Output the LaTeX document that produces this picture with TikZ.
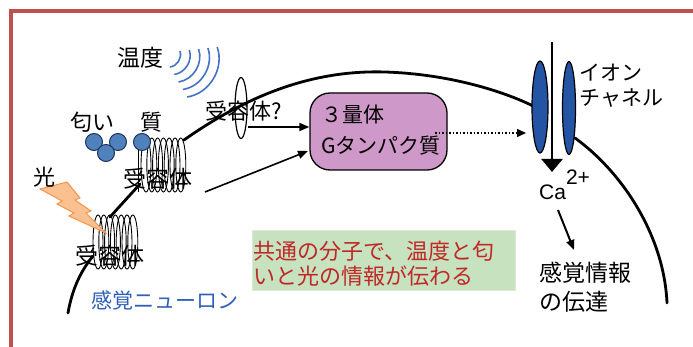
\documentclass[tikz,border=0pt]{standalone}
\usepackage{fontspec}
\setmainfont{Noto Sans CJK JP}
\newfontfamily\latinsans{Liberation Sans}
\usetikzlibrary{arrows.meta,shapes.geometric}

\definecolor{framered}{RGB}{192,80,77}
\definecolor{wave}{RGB}{68,114,196}
\definecolor{ligand}{RGB}{79,129,189}
\definecolor{ligandline}{RGB}{30,50,90}
\definecolor{gprot}{RGB}{206,152,200}
\definecolor{channel}{RGB}{36,84,164}
\definecolor{boltfill}{RGB}{250,192,144}
\definecolor{boltline}{RGB}{240,150,80}
\definecolor{notegreen}{RGB}{198,226,190}
\definecolor{noteline}{RGB}{225,230,215}
\definecolor{notered}{RGB}{192,40,40}
\definecolor{neuronblue}{RGB}{46,95,185}

\begin{document}
\begin{tikzpicture}[x=1pt,y=-1pt,
  jp/.style={font=\fontsize{21}{25}\selectfont, inner sep=0pt},
  jpbig/.style={font=\fontsize{23}{27}\selectfont, inner sep=0pt},
  membrane/.style={line width=2.8pt, line cap=round},
  coil/.style={line width=0.9pt},
  wavearc/.style={wave, line width=1.6pt},
  lig/.style={circle, minimum size=17pt, inner sep=0pt, fill=ligand, draw=ligandline, line width=1pt},
  chan/.style={ellipse, inner sep=0pt, fill=channel, draw=black, line width=1.2pt},
  arr/.style={line width=1.6pt, -{Triangle[length=10pt,width=8pt]}},
  dotarr/.style={line width=1.5pt, dotted, -{Triangle[length=9pt,width=8pt]}},
]
\useasboundingbox (0,0) rectangle (693,347);

% page frame
\draw[framered, line width=3.5pt] (10.8,347) -- (10.8,10.8) -- (693,10.8);

% cell membrane of the sensory neuron
\draw[membrane] (68,313) .. controls (72,290) and (80,272) .. (93,256);
\draw[membrane] (110,217) -- (140,184);
\draw[membrane] (184,140) .. controls (255,90) and (320,70) .. (385,72)
                .. controls (450,74) and (505,92) .. (533,106);
\draw[membrane] (575,138) .. controls (622,172) and (664,235) .. (667,303);

% seven-pass receptors
\foreach \i in {0,...,6}
  \draw[coil] (146+5.8*\i,165) ellipse [x radius=5pt, y radius=27pt];
\foreach \i in {0,...,6}
  \draw[coil] (98+5.8*\i,242) ellipse [x radius=5pt, y radius=27pt];
\draw[coil] (138.5,150) -- (138.5,192);

% receptor of unknown type
\node[ellipse, draw, line width=1.2pt, minimum width=12pt, minimum height=61pt, inner sep=0pt] (rq) at (241,108) {};

% temperature waves
\foreach \i in {0,...,4}
  \draw[wavearc] (170+4.3*\i,67+7.5*\i) to[bend right=50] (180+9.3*\i,51-1*\i);

% odorant molecules
\node[lig] (o1) at (94,142) {};
\node[lig] (o2) at (118,142) {};
\node[lig] (o3) at (106,153) {};
\node[lig] (o4) at (142,142) {};

% light
\draw[boltline, fill=boltfill, line width=1pt, line join=miter]
  (40,189) -- (67,182) -- (80,198) -- (75,200) -- (91,211) -- (86,213) -- (106,233)
  -- (69,216) -- (74,213) -- (57,204) -- (62,201) -- cycle;

% labels
\node[jpbig] (temp) at (140,58) {温度};
\node[jp, font=\fontsize{22}{26}\selectfont] (odor1) at (92,122) {匂い};
\node[jp, font=\fontsize{22}{26}\selectfont] (odor2) at (151,122) {質};
\node[jp, font=\fontsize{22}{26}\selectfont] (light) at (44,177) {光};
\node[jpbig] (recA) at (158,179) {受容体};
\node[jpbig] (recB) at (110,256) {受容体};
\node[jp, font=\fontsize{22}{26}\selectfont] (recQ) at (244,111) {受容体?};
\node[jp, text=neuronblue] (neuron) at (165,300) {感覚ニューロン};

% trimeric G protein
\node[draw, line width=1.3pt, fill=gprot, rounded corners=20pt,
      minimum width=137pt, minimum height=77pt] (gp) at (378.5,131.5) {};
\node[jp, align=left, anchor=north west, font=\fontsize{21}{31}\selectfont] (gptext) at (321,105)
  {３量体\\Gタンパク質};

% ion channel
\node[chan, minimum width=16pt, minimum height=92pt] (chL) at (540,107) {};
\node[chan, minimum width=13pt, minimum height=93pt] (chR) at (569,108) {};
\coordinate (caTop) at (552,42);
\coordinate (caEnd) at (552,172);
\draw[line width=2.4pt, -{Triangle[length=13pt,width=21pt]}] (caTop) -- (caEnd);
\node[jp, align=left, anchor=west, font=\fontsize{21}{25}\selectfont] (chText) at (579,86)
  {イオン\\チャネル};
\node[anchor=base west, inner sep=0pt, font=\latinsans\fontsize{21}{25}\selectfont] (ca) at (539,200)
  {Ca\raisebox{15pt}{2+}};

% signal flow
\coordinate (qStart) at (248,127);
\draw[arr] (qStart) -- (qStart -| gp.west);
\coordinate (aStart) at (205,192);
\coordinate (aEnd) at (308,151);
\draw[arr] (aStart) -- (aEnd);
\coordinate (dStart) at (435,133);
\coordinate (dEnd) at (526,133);
\draw[dotarr] (dStart) -- (dEnd);

\node[jp, align=left, anchor=west, font=\fontsize{23}{29}\selectfont] (info) at (539,287) {感覚情報\\の伝達};
\coordinate (iStart) at (558,210);
\coordinate (iEnd) at (574,250);
\draw[arr, line width=2pt] (iStart) -- (iEnd);

% note
\node[fill=notegreen, draw=noteline, line width=0.8pt, minimum width=263pt, minimum height=60pt] (note) at (383.5,260) {};
\node[jp, text=notered, align=left, anchor=west, font=\fontsize{22}{25}\selectfont] (notetext) at (253,264)
  {共通の分子で、温度と匂\\いと光の情報が伝わる};
\end{tikzpicture}
\end{document}
